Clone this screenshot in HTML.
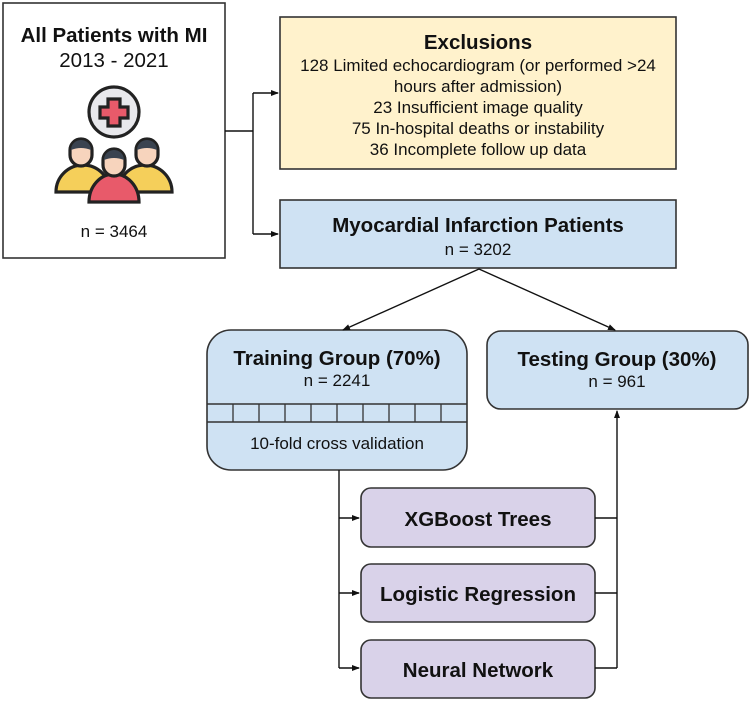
<!DOCTYPE html>
<html><head><meta charset="utf-8"><style>
html,body{margin:0;padding:0;background:#fff;}
svg{display:block;font-family:"Liberation Sans",Arial,sans-serif;}
</style></head><body>
<svg width="751" height="701" viewBox="0 0 751 701" xmlns="http://www.w3.org/2000/svg">
<defs><marker id="a" markerWidth="8" markerHeight="8" refX="7" refY="4" orient="auto" markerUnits="userSpaceOnUse"><path d="M0,1 L8,4 L0,7 z" fill="#111"/></marker></defs>
<g stroke="#333" stroke-width="1.6">
<rect x="3" y="3" width="222" height="255" fill="#fff"/>
<rect x="280" y="17" width="396" height="152" fill="#fff2cc"/>
<rect x="280" y="200" width="396" height="68" fill="#cfe2f3"/>
<rect x="207" y="330" width="260" height="140" rx="24" fill="#cfe2f3"/>
<rect x="487" y="331" width="261" height="78" rx="14" fill="#cfe2f3"/>
<rect x="361" y="488" width="234" height="59" rx="10" fill="#d9d2e9"/>
<rect x="361" y="564" width="234" height="58" rx="10" fill="#d9d2e9"/>
<rect x="361" y="640" width="234" height="58" rx="10" fill="#d9d2e9"/>
<line x1="207" y1="404" x2="467" y2="404"/><line x1="207" y1="422" x2="467" y2="422"/>
</g>
<g stroke="#333" stroke-width="1.3">
<line x1="233" y1="404" x2="233" y2="422"/><line x1="259" y1="404" x2="259" y2="422"/><line x1="285" y1="404" x2="285" y2="422"/><line x1="311" y1="404" x2="311" y2="422"/><line x1="337" y1="404" x2="337" y2="422"/><line x1="363" y1="404" x2="363" y2="422"/><line x1="389" y1="404" x2="389" y2="422"/><line x1="415" y1="404" x2="415" y2="422"/><line x1="441" y1="404" x2="441" y2="422"/>
</g>
<g stroke="#111" stroke-width="1.4" fill="none">
<path d="M225,131 H253"/>
<path d="M253,93 V234"/>
<path d="M253,93 H278" marker-end="url(#a)"/>
<path d="M253,234 H278" marker-end="url(#a)"/>
<path d="M479,269 L343,330" marker-end="url(#a)"/>
<path d="M479,269 L615,330" marker-end="url(#a)"/>
<path d="M339,470 V668"/>
<path d="M339,518 H359" marker-end="url(#a)"/>
<path d="M339,593 H359" marker-end="url(#a)"/>
<path d="M339,668 H359" marker-end="url(#a)"/>
<path d="M595,518 H617 M595,593 H617 M595,668 H617"/>
<path d="M617,668 V411" marker-end="url(#a)"/>
</g>
<!-- icon -->
<g stroke="#222" stroke-width="3.2">
<circle cx="114" cy="112" r="25" fill="#e8e8ec"/>
<path d="M108,99h12v8h8v11h-8v8h-12v-8h-8v-11h8z" fill="#e85a6a"/>
<path d="M56,192 a27,27 0 0 1 54,0 z" fill="#f5cf5a"/>
<path d="M118,192 a27,27 0 0 1 54,0 z" fill="#f5cf5a"/>
<rect x="70" y="139" width="22" height="27" rx="11" fill="#f7d4bd"/>
<rect x="136" y="139" width="22" height="27" rx="11" fill="#f7d4bd"/>
<path d="M89,202 a25,28 0 0 1 50,0 z" fill="#e85a6a"/>
<rect x="103" y="149" width="22" height="27" rx="11" fill="#f7d4bd"/>
</g>
<g fill="#3a4350"><path d="M71,150 a10,10 0 0 1 20,0 q-10,-4 -20,0z"/><path d="M137,150 a10,10 0 0 1 20,0 q-10,-4 -20,0z"/><path d="M104,160 a10,10 0 0 1 20,0 q-10,-4 -20,0z"/></g>
<g fill="#111" text-anchor="middle">
<text x="114" y="42" font-size="20.5" font-weight="bold">All Patients with MI</text>
<text x="114" y="67" font-size="20.5">2013 - 2021</text>
<text x="114" y="237" font-size="17">n = 3464</text>
<text x="478" y="49" font-size="20.5" font-weight="bold">Exclusions</text>
<text x="478" y="71" font-size="17">128 Limited echocardiogram (or performed &gt;24</text>
<text x="478" y="92" font-size="17">hours after admission)</text>
<text x="478" y="113" font-size="17">23 Insufficient image quality</text>
<text x="478" y="134" font-size="17">75 In-hospital deaths or instability</text>
<text x="478" y="155" font-size="17">36 Incomplete follow up data</text>
<text x="478" y="232" font-size="20.5" font-weight="bold">Myocardial Infarction Patients</text>
<text x="478" y="255" font-size="17">n = 3202</text>
<text x="337" y="365" font-size="20.5" font-weight="bold">Training Group (70%)</text>
<text x="337" y="386" font-size="17">n = 2241</text>
<text x="337" y="449" font-size="17">10-fold cross validation</text>
<text x="617" y="366" font-size="20.5" font-weight="bold">Testing Group (30%)</text>
<text x="617" y="387" font-size="17">n = 961</text>
<text x="478" y="526" font-size="20.5" font-weight="bold">XGBoost Trees</text>
<text x="478" y="601" font-size="20.5" font-weight="bold">Logistic Regression</text>
<text x="478" y="677" font-size="20.5" font-weight="bold">Neural Network</text>
</g>
</svg>
</body></html>
